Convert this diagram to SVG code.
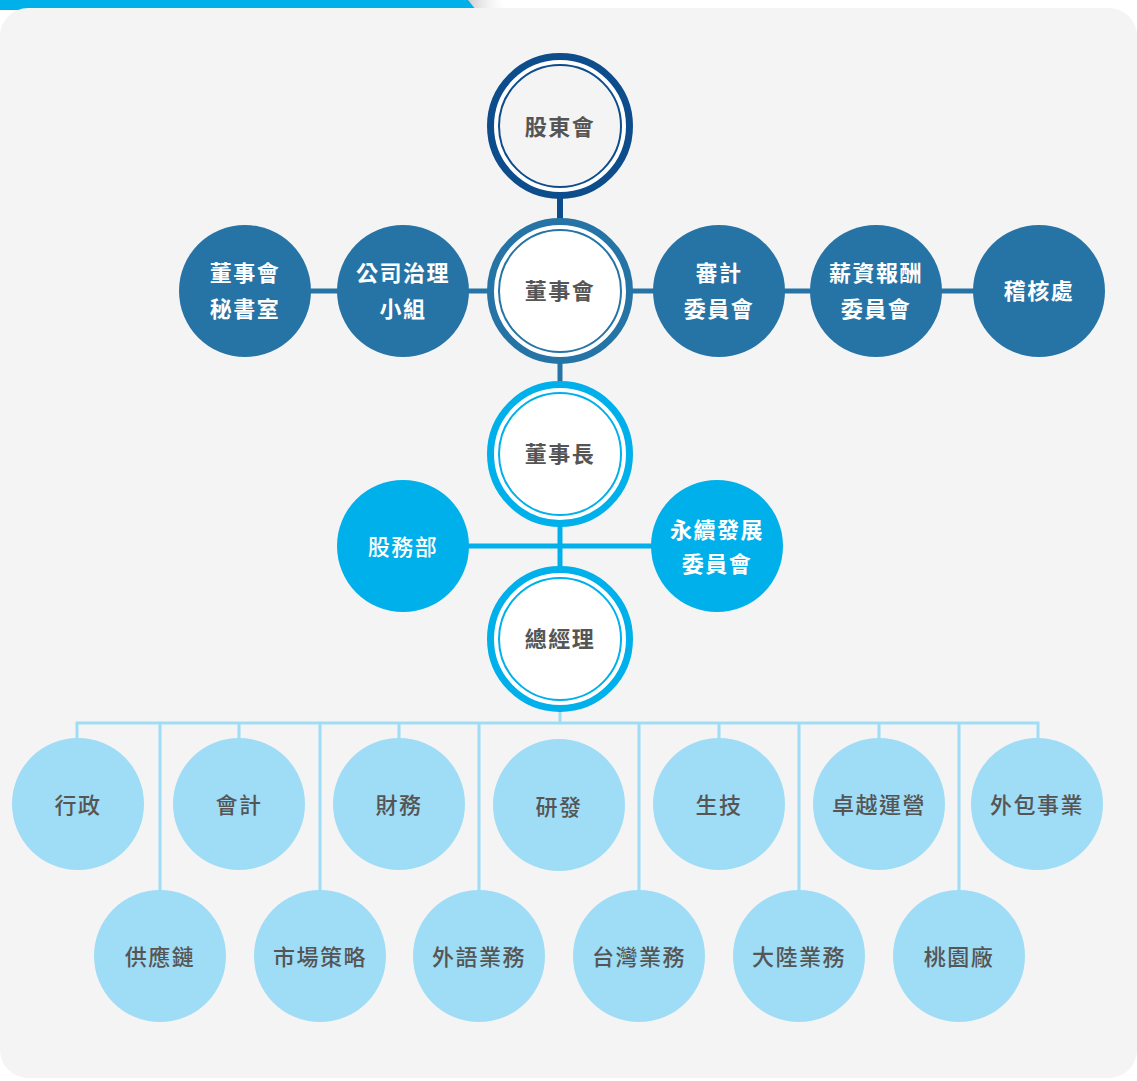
<svg xmlns="http://www.w3.org/2000/svg" width="1137" height="1081" viewBox="0 0 1137 1081">
<defs>
<style>
.t{font-family:"Noto Sans CJK TC","Noto Sans CJK SC",sans-serif;font-size:22px;text-anchor:middle;letter-spacing:1.5px}
.w{fill:#ffffff;font-weight:700}
.g{fill:#555555;font-weight:700}
.r{fill:#555555;font-weight:500}
.navy{fill:#2574a5}
.cyan{fill:#00b0ea}
.light{fill:#9fdcf6}
</style>
<linearGradient id="sh" x1="0" y1="0" x2="1" y2="0">
<stop offset="0" stop-color="#c8c8c8"/>
<stop offset="1" stop-color="#ffffff" stop-opacity="0"/>
</linearGradient>
</defs>
<rect x="0" y="0" width="1137" height="1081" fill="#ffffff"/>
<path d="M466 0 L500 0 L510 12 L476 12 Z" fill="url(#sh)"/>
<path d="M0 0 L468 0 L476 10 L0 10 Z" fill="#00b0ea"/>
<rect x="0" y="8" width="1137" height="1070" rx="28" ry="28" fill="#f4f4f4"/>

<g id="connectors">
<line x1="560" y1="196" x2="560" y2="220" stroke="#0e4d8c" stroke-width="6"/>
<line x1="245" y1="291" x2="1039" y2="291" stroke="#2574a5" stroke-width="5"/>
<line x1="560" y1="362" x2="560" y2="385" stroke="#2574a5" stroke-width="5"/>
<line x1="560" y1="524" x2="560" y2="570" stroke="#00b0ea" stroke-width="5"/>
<line x1="403" y1="546" x2="717" y2="546" stroke="#00b0ea" stroke-width="5"/>
<line x1="560" y1="710" x2="560" y2="724" stroke="#9fdcf6" stroke-width="3"/>
<polyline points="77,740 77,723 1038,723 1038,740" fill="none" stroke="#9fdcf6" stroke-width="3"/>
<line x1="239" y1="723" x2="239" y2="740" stroke="#9fdcf6" stroke-width="3"/>
<line x1="399" y1="723" x2="399" y2="740" stroke="#9fdcf6" stroke-width="3"/>
<line x1="719" y1="723" x2="719" y2="740" stroke="#9fdcf6" stroke-width="3"/>
<line x1="879" y1="723" x2="879" y2="740" stroke="#9fdcf6" stroke-width="3"/>
<line x1="160" y1="723" x2="160" y2="892" stroke="#9fdcf6" stroke-width="3"/>
<line x1="320" y1="723" x2="320" y2="892" stroke="#9fdcf6" stroke-width="3"/>
<line x1="479" y1="723" x2="479" y2="892" stroke="#9fdcf6" stroke-width="3"/>
<line x1="639" y1="723" x2="639" y2="892" stroke="#9fdcf6" stroke-width="3"/>
<line x1="799" y1="723" x2="799" y2="892" stroke="#9fdcf6" stroke-width="3"/>
<line x1="959" y1="723" x2="959" y2="892" stroke="#9fdcf6" stroke-width="3"/>
</g>

<g id="n-gudonghui">
<circle cx="560" cy="126" r="69.5" fill="#ffffff" stroke="#0e4d8c" stroke-width="7"/>
<circle cx="560" cy="126" r="61" fill="#f4f4f4" stroke="#0e4d8c" stroke-width="2"/>
<text class="t g" x="560" y="135">股東會</text>
</g>
<g id="n-dongshihui">
<circle cx="560" cy="291" r="69.5" fill="#ffffff" stroke="#2574a5" stroke-width="7"/>
<circle cx="560" cy="291" r="61" fill="#ffffff" stroke="#2574a5" stroke-width="2"/>
<text class="t g" x="560" y="299">董事會</text>
</g>
<g id="n-mishushi">
<circle class="navy" cx="245" cy="291" r="66"/>
<text class="t w" x="245" y="281">董事會</text>
<text class="t w" x="245" y="317">秘書室</text>
</g>
<g id="n-zhili">
<circle class="navy" cx="403" cy="291" r="66"/>
<text class="t w" x="403" y="281">公司治理</text>
<text class="t w" x="403" y="317">小組</text>
</g>
<g id="n-shenji">
<circle class="navy" cx="719" cy="291" r="66"/>
<text class="t w" x="719" y="281">審計</text>
<text class="t w" x="719" y="317">委員會</text>
</g>
<g id="n-xinzi">
<circle class="navy" cx="876" cy="291" r="66"/>
<text class="t w" x="876" y="281">薪資報酬</text>
<text class="t w" x="876" y="317">委員會</text>
</g>
<g id="n-jihe">
<circle class="navy" cx="1039" cy="291" r="66"/>
<text class="t w" x="1039" y="299">稽核處</text>
</g>
<g id="n-dongshizhang">
<circle cx="560" cy="454" r="69.5" fill="#ffffff" stroke="#00b0ea" stroke-width="7"/>
<circle cx="560" cy="454" r="61" fill="#ffffff" stroke="#00b0ea" stroke-width="2"/>
<text class="t g" x="560" y="462">董事長</text>
</g>
<g id="n-gewubu">
<circle class="cyan" cx="403" cy="546" r="66"/>
<text class="t" x="403" y="555" fill="#ffffff" font-weight="500">股務部</text>
</g>
<g id="n-yongxu">
<circle class="cyan" cx="717" cy="546" r="66"/>
<text class="t w" x="717" y="538">永續發展</text>
<text class="t w" x="717" y="572">委員會</text>
</g>
<g id="n-zongjingli">
<circle cx="560" cy="639" r="69.5" fill="#ffffff" stroke="#00b0ea" stroke-width="7"/>
<circle cx="560" cy="639" r="61" fill="#ffffff" stroke="#00b0ea" stroke-width="2"/>
<text class="t g" x="560" y="647">總經理</text>
</g>

<g id="n-xingzheng"><circle class="light" cx="78" cy="804" r="66"/><text class="t r" x="78" y="813">行政</text></g>
<g id="n-kuaiji"><circle class="light" cx="239" cy="804" r="66"/><text class="t r" x="239" y="813">會計</text></g>
<g id="n-caiwu"><circle class="light" cx="399" cy="804" r="66"/><text class="t r" x="399" y="813">財務</text></g>
<g id="n-yanfa"><circle class="light" cx="559" cy="805" r="66"/><text class="t r" x="559" y="815">研發</text></g>
<g id="n-shengji"><circle class="light" cx="719" cy="804" r="66"/><text class="t r" x="719" y="813">生技</text></g>
<g id="n-zhuoyue"><circle class="light" cx="879" cy="804" r="66"/><text class="t r" x="879" y="813">卓越運營</text></g>
<g id="n-waibao"><circle class="light" cx="1037" cy="804" r="66"/><text class="t r" x="1037" y="813">外包事業</text></g>
<g id="n-gongying"><circle class="light" cx="160" cy="956" r="66"/><text class="t r" x="160" y="965">供應鏈</text></g>
<g id="n-shichang"><circle class="light" cx="320" cy="956" r="66"/><text class="t r" x="320" y="965">市場策略</text></g>
<g id="n-waiyu"><circle class="light" cx="479" cy="956" r="66"/><text class="t r" x="479" y="965">外語業務</text></g>
<g id="n-taiwan"><circle class="light" cx="639" cy="956" r="66"/><text class="t r" x="639" y="965">台灣業務</text></g>
<g id="n-dalu"><circle class="light" cx="799" cy="956" r="66"/><text class="t r" x="799" y="965">大陸業務</text></g>
<g id="n-taoyuan"><circle class="light" cx="959" cy="956" r="66"/><text class="t r" x="959" y="965">桃園廠</text></g>
</svg>
